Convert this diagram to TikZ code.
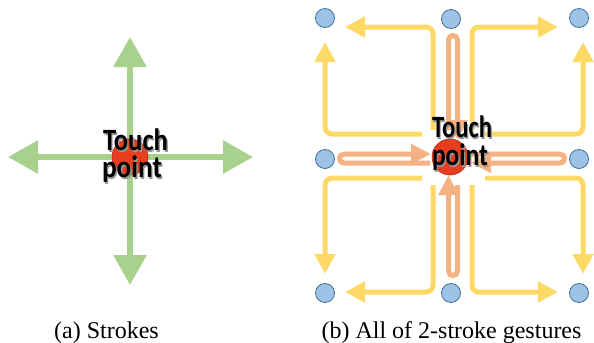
\documentclass[tikz,border=0pt]{standalone}
\usepackage{fontspec}
\setmainfont{Liberation Serif}
\newfontfamily\calib{Carlito}
\usetikzlibrary{arrows.meta}
\definecolor{greenA}{RGB}{169,209,142}
\definecolor{yel}{RGB}{255,217,102}
\definecolor{ora}{RGB}{244,177,131}
\definecolor{dotfill}{RGB}{157,195,230}
\definecolor{dotline}{RGB}{65,113,156}
\definecolor{redfill}{RGB}{230,62,30}
\definecolor{redline}{RGB}{180,40,30}
\definecolor{shadowgray}{RGB}{150,150,150}
\newcommand{\shadowtext}[2]{\resizebox{#1}{\height}{\makebox[0pt][l]{\hspace*{1.5bp}\raisebox{-1.5bp}{\textcolor{shadowgray}{#2}}}#2}}
\begin{document}
\begin{tikzpicture}[x=1bp,y=-1bp,
  greenarrow/.style={draw=greenA, line width=6bp, -{Triangle[length=30bp,width=32bp]}},
  yarrow/.style={draw=yel, line width=5bp, rounded corners=7bp, -{Triangle[length=20bp,width=20bp]}},
  oloop/.style={draw=ora, line width=5bp, -{Triangle[length=20bp,width=19bp]}},
  dotstyle/.style={circle, fill=dotfill, draw=dotline, line width=0.8bp, minimum size=19bp, inner sep=0pt},
  touchdot/.style={circle, fill=redfill, draw=redline, line width=0.6bp, minimum size=36bp, inner sep=0pt},
  lbl/.style={inner sep=0pt, anchor=base, text=black, font=\calib\bfseries\fontsize{31bp}{31bp}\selectfont},
  captxt/.style={inner sep=0pt, anchor=base, font=\fontsize{24bp}{28bp}\selectfont}]
\useasboundingbox (0,0) rectangle (594,342);

% ---------- panel (a) ----------
\coordinate (ac) at (130,157);
\coordinate (aup) at (130,37);
\coordinate (adown) at (130,285);
\coordinate (aleft) at (8,157);
\coordinate (aright) at (253,157);
\draw[greenarrow] (ac) -- (aup);
\draw[greenarrow] (ac) -- (adown);
\draw[greenarrow] (ac) -- (aleft);
\draw[greenarrow] (ac) -- (aright);
\node[touchdot] (ta) at (ac) {};
\node[lbl] (touchA) at (135.5,150.5) {\shadowtext{65bp}{Touch}};
\node[lbl] (pointA) at (132,177.5) {\shadowtext{60bp}{point}};
\node[captxt] (capA) at (106.5,338) {(a) Strokes};

% ---------- panel (b) ----------
% yellow two-stroke arrows
\draw[yarrow] (422,134) -- (325,134) -- (325,42);
\draw[yarrow] (433,130) -- (433,27) -- (345,27);
\draw[yarrow] (472,130) -- (472,27) -- (558,27);
\draw[yarrow] (485,134) -- (583,134) -- (583,42);
\draw[yarrow] (422,178) -- (325,178) -- (325,274);
\draw[yarrow] (433,185) -- (433,292) -- (345,292);
\draw[yarrow] (472,185) -- (472,292) -- (558,292);
\draw[yarrow] (485,178) -- (583,178) -- (583,274);
% orange back-and-forth strokes
\draw[oloop] (448.5,130) -- (448.5,40) .. controls (448.5,34) and (457.5,34) .. (457.5,40) -- (457.5,140);
\draw[oloop] (468,154) -- (560,154) .. controls (566,154) and (566,163) .. (560,163) -- (471,163);
\draw[oloop] (457.5,185) -- (457.5,271) .. controls (457.5,277) and (448.5,277) .. (448.5,271) -- (448.5,175);
\draw[oloop] (430,163) -- (344,163) .. controls (338,163) and (338,154) .. (344,154) -- (431,154);
% blue target dots
\node[dotstyle] (d11) at (325,18) {};
\node[dotstyle] (d12) at (451,19) {};
\node[dotstyle] (d13) at (579,18) {};
\node[dotstyle] (d21) at (325,159) {};
\node[dotstyle] (d23) at (579,159) {};
\node[dotstyle] (d31) at (325,293) {};
\node[dotstyle] (d32) at (451,293) {};
\node[dotstyle] (d33) at (579,293) {};
\node[touchdot] (tb) at (450,157) {};
\node[lbl] (touchB) at (462,137.5) {\shadowtext{60bp}{Touch}};
\node[lbl] (pointB) at (460,165.5) {\shadowtext{56bp}{point}};
\node[captxt] (capB) at (451.5,338) {(b) All of 2-stroke gestures};
\end{tikzpicture}
\end{document}
